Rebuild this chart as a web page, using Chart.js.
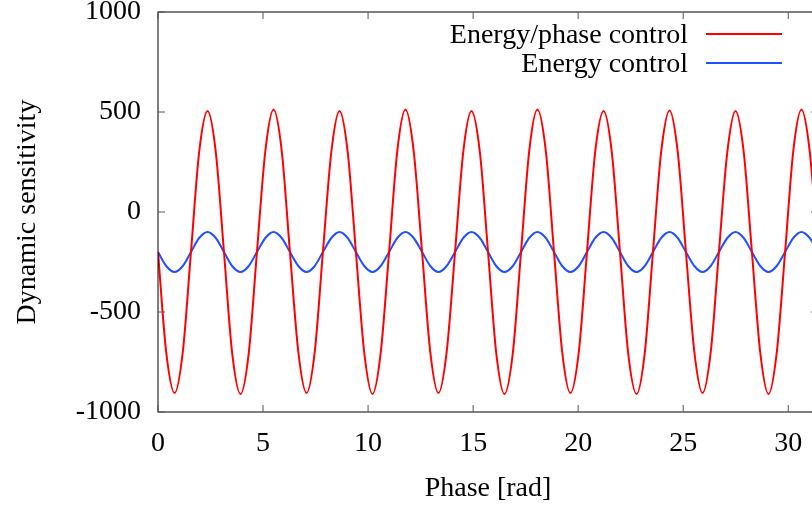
<!DOCTYPE html>
<html>
<head>
<meta charset="utf-8">
<script src="https://cdn.jsdelivr.net/npm/chart.js@4/dist/chart.umd.min.js"></script>
<style>
    html, body { margin: 0; padding: 0; background: #fff; overflow: hidden; }
    #wrap { width: 850px; height: 507px; }
</style>
</head>
<body>
<div id="wrap"><canvas id="sensChart" width="850" height="507"></canvas></div>
<script>
// Phase samples [rad] (every pi/8)
const phase = [
    0, 0.39, 0.79, 1.18, 1.57, 1.96, 2.36, 2.75,
    3.14, 3.53, 3.93, 4.32, 4.71, 5.11, 5.50, 5.89,
    6.28, 6.68, 7.07, 7.46, 7.85, 8.25, 8.64, 9.03,
    9.42, 9.82, 10.21, 10.60, 11.00, 11.39, 11.78, 12.17,
    12.57, 12.96, 13.35, 13.74, 14.14, 14.53, 14.92, 15.32,
    15.71, 16.10, 16.49, 16.89, 17.28, 17.67, 18.06, 18.46,
    18.85, 19.24, 19.63, 20.03, 20.42, 20.81, 21.21, 21.60,
    21.99, 22.38, 22.78, 23.17, 23.56, 23.95, 24.35, 24.74,
    25.13, 25.53, 25.92, 26.31, 26.70, 27.10, 27.49, 27.88,
    28.27, 28.67, 29.06, 29.45, 29.85, 30.24, 30.63, 31.02,
    31.42
];

const energyPhase = [
    -200, -700, -905, -700, -200, 300, 505, 300,
    -200, -705, -910, -705, -200, 305, 512, 305,
    -200, -700, -905, -700, -200, 300, 505, 300,
    -200, -705, -910, -705, -200, 305, 512, 305,
    -200, -700, -905, -700, -200, 300, 505, 300,
    -200, -705, -910, -705, -200, 305, 512, 305,
    -200, -700, -905, -700, -200, 300, 505, 300,
    -200, -705, -910, -705, -200, 300, 508, 300,
    -200, -700, -905, -700, -200, 300, 505, 300,
    -200, -705, -910, -705, -200, 305, 512, 305,
    -200
];

const energyOnly = [
    -200, -270, -300, -270, -200, -130, -100, -130,
    -200, -270, -300, -270, -200, -130, -100, -130,
    -200, -270, -300, -270, -200, -130, -100, -130,
    -200, -270, -300, -270, -200, -130, -100, -130,
    -200, -270, -300, -270, -200, -130, -100, -130,
    -200, -270, -300, -270, -200, -130, -100, -130,
    -200, -270, -300, -270, -200, -130, -100, -130,
    -200, -270, -300, -270, -200, -130, -100, -130,
    -200, -270, -300, -270, -200, -130, -100, -130,
    -200, -270, -300, -270, -200, -130, -100, -130,
    -200
];

const seriesLabels = ["Energy/phase control", "Energy control"];
const xTicks = [0, 5, 10, 15, 20, 25, 30];
const yTicks = [-1000, -500, 0, 500, 1000];

const FONT = "'Liberation Serif', 'Times New Roman', serif";
const FSIZE = 28;

const toPoints = (ys) => phase.map((x, i) => ({x: x, y: ys[i]}));

// gnuplot-like frame, inward ticks and legend
const framePlugin = {
    id: "frame",
    afterDatasetsDraw(chart) {
        const {ctx, chartArea: a, scales} = chart;
        ctx.save();
        ctx.strokeStyle = "#000";
        ctx.lineWidth = 1;
        ctx.strokeRect(a.left, a.top, a.right - a.left, a.bottom - a.top);

        const tl = 7;
        ctx.strokeStyle = "#555";
        ctx.beginPath();
        xTicks.forEach(v => {
            const px = scales.x.getPixelForValue(v);
            ctx.moveTo(px, a.bottom); ctx.lineTo(px, a.bottom - tl);
            ctx.moveTo(px, a.top); ctx.lineTo(px, a.top + tl);
        });
        yTicks.forEach(v => {
            const py = scales.y.getPixelForValue(v);
            ctx.moveTo(a.left, py); ctx.lineTo(a.left + tl, py);
            ctx.moveTo(a.right, py); ctx.lineTo(a.right - tl, py);
        });
        ctx.stroke();

        // legend: text right aligned, sample line on the right
        ctx.font = FSIZE + "px " + FONT;
        ctx.textAlign = "right";
        ctx.textBaseline = "middle";
        chart.data.datasets.forEach((ds, i) => {
            const y = 36 + i * 29;
            ctx.fillStyle = "#000";
            ctx.fillText(ds.label, 688, y);
            ctx.strokeStyle = ds.borderColor;
            ctx.lineWidth = 2;
            ctx.beginPath();
            ctx.moveTo(706, y - 2);
            ctx.lineTo(782, y - 2);
            ctx.stroke();
        });
        ctx.restore();
    }
};

new Chart(document.getElementById("sensChart"), {
    type: "line",
    data: {
        datasets: [
            {
                label: seriesLabels[0],
                data: toPoints(energyPhase),
                borderColor: "#ff0000",
                borderWidth: 2,
                pointRadius: 0,
                cubicInterpolationMode: "monotone",
                fill: false
            },
            {
                label: seriesLabels[1],
                data: toPoints(energyOnly),
                borderColor: "#2050ff",
                borderWidth: 2,
                pointRadius: 0,
                cubicInterpolationMode: "monotone",
                fill: false
            }
        ]
    },
    options: {
        responsive: false,
        animation: false,
        layout: {padding: {top: 12, right: 32, left: 0, bottom: 0}},
        plugins: {
            legend: {display: false},
            tooltip: {enabled: false}
        },
        scales: {
            x: {
                type: "linear",
                min: 0,
                max: 31.416,
                grid: {display: false, drawTicks: false},
                border: {display: false},
                afterBuildTicks: (s) => { s.ticks = xTicks.map(v => ({value: v})); },
                afterFit: (s) => {
                    s.height = 95;
                    s.paddingLeft = 0;
                    s.paddingRight = 0;
                },
                ticks: {
                    color: "#000",
                    padding: 15,
                    maxRotation: 0,
                    callback: (v) => String(v),
                    font: {family: FONT, size: FSIZE}
                },
                title: {
                    display: true,
                    text: "Phase [rad]",
                    color: "#000",
                    padding: {top: 2, bottom: 2},
                    font: {family: FONT, size: FSIZE}
                }
            },
            y: {
                min: -1000,
                max: 1000,
                grid: {display: false, drawTicks: false},
                border: {display: false},
                afterBuildTicks: (s) => { s.ticks = yTicks.map(v => ({value: v})); },
                afterFit: (s) => {
                    s.width = 158;
                    s.paddingTop = 0;
                    s.paddingBottom = 0;
                },
                ticks: {
                    color: "#000",
                    padding: 17,
                    callback: (v) => String(v),
                    font: {family: FONT, size: FSIZE}
                },
                title: {
                    display: true,
                    text: "Dynamic sensitivity",
                    color: "#000",
                    padding: {top: 11, bottom: 11},
                    font: {family: FONT, size: FSIZE}
                }
            }
        }
    },
    plugins: [framePlugin]
});
</script>
</body>
</html>
